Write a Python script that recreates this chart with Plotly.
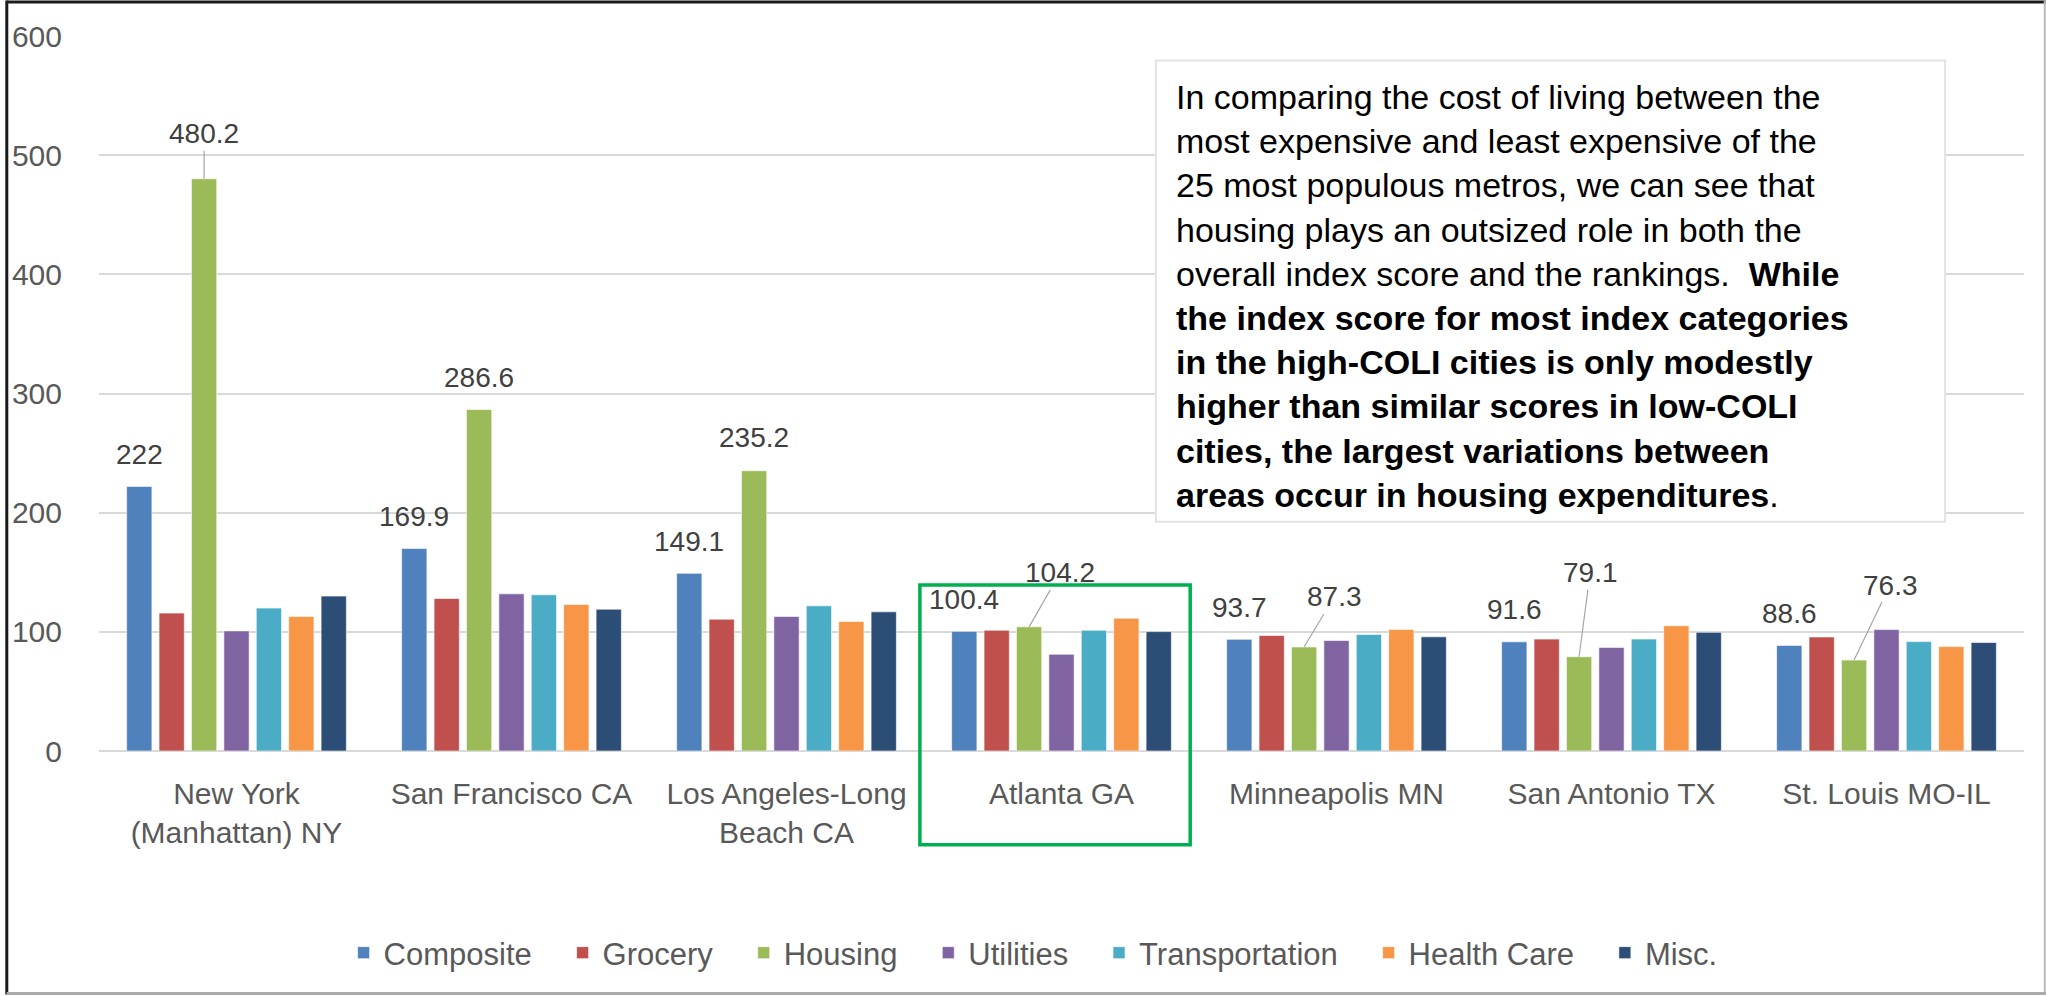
import plotly.graph_objects as go

# ---------------- data ----------------
cities = ["New York<br>(Manhattan) NY", "San Francisco CA", "Los Angeles-Long<br>Beach CA",
          "Atlanta GA", "Minneapolis MN", "San Antonio TX", "St. Louis MO-IL"]
series_names = ["Composite", "Grocery", "Housing", "Utilities", "Transportation", "Health Care", "Misc."]
composite = [222, 169.9, 149.1, 100.4, 93.7, 91.6, 88.6]
grocery = [115.7, 128.0, 110.6, 101.3, 96.9, 93.9, 95.7]
housing = [480.2, 286.6, 235.2, 104.2, 87.3, 79.1, 76.3]
utilities = [100.8, 131.9, 112.9, 81.2, 92.7, 86.9, 101.9]
transportation = [119.9, 131.1, 121.8, 101.3, 97.8, 93.9, 91.8]
health_care = [112.9, 123.0, 108.7, 111.4, 102.0, 105.1, 87.6]
misc = [130.0, 119.0, 116.8, 100.2, 95.8, 99.6, 91.0]
y_ticks = [0, 100, 200, 300, 400, 500, 600]

note_lines = [
    "In comparing the cost of living between the",
    "most expensive and least expensive of the",
    "25 most populous metros, we can see that",
    "housing plays an outsized role in both the",
    "overall index score and the rankings.  <b>While</b>",
    "<b>the index score for most index categories</b>",
    "<b>in the high-COLI cities is only modestly</b>",
    "<b>higher than similar scores in low-COLI</b>",
    "<b>cities, the largest variations between</b>",
    "<b>areas occur in housing expenditures</b>.",
]

# ---------------- style ----------------
colors = ["#4F81BD", "#C0504D", "#9BBB59", "#8064A2", "#4BACC6", "#F79646", "#2C4D75"]
FONT = "Arial, Liberation Sans, sans-serif"
BARGAP = 0.175
BARGROUPGAP = 0.22
LEGEND_PAD = "\u00a0\u00a0\u00a0"
# label offsets (px) for housing labels: (dx, dy, leader)
housing_label_offsets = [(0, -45, True), (0, -32, False), (0, -33, False), (31, -54, True),
                         (30, -50, True), (11, -84, True), (36, -75, True)]

values = [composite, grocery, housing, utilities, transportation, health_care, misc]
xs = list(range(len(cities)))

fig = go.Figure()
for name, vals, col in zip(series_names, values, colors):
    fig.add_trace(go.Bar(x=xs, y=vals, name=name + LEGEND_PAD,
                         marker=dict(color=col, line=dict(color="rgba(255,255,255,0.6)", width=1)),
                         hoverinfo="skip"))

n = len(series_names)
slot = (1 - BARGAP) / n

annotations = []
label_font = dict(family=FONT, size=28, color="#404040")
for i, v in enumerate(composite):
    annotations.append(dict(x=i + (0 - (n - 1) / 2) * slot, y=v, xref="x", yref="y",
                            text=f"{v:g}", showarrow=False, yshift=32, font=label_font))
for i, v in enumerate(housing):
    dx, dy, leader = housing_label_offsets[i]
    xi = i + (2 - (n - 1) / 2) * slot
    if leader:
        annotations.append(dict(x=xi, y=v, xref="x", yref="y", text=f"{v:g}", showarrow=True,
                                arrowhead=0, arrowwidth=1.2, arrowcolor="#A6A6A6", ax=dx, ay=dy,
                                standoff=0, font=label_font))
    else:
        annotations.append(dict(x=xi, y=v, xref="x", yref="y", text=f"{v:g}", showarrow=False,
                                yshift=-dy, font=label_font))

# text box
annotations.append(dict(x=0.5585, y=0.944, xref="paper", yref="paper", xanchor="left", yanchor="top",
                        align="left", showarrow=False, text="<br>".join(note_lines),
                        font=dict(family=FONT, size=34, color="#000000")))

shapes = [
    # note box
    dict(type="rect", xref="paper", yref="paper", x0=0.5490, x1=0.959, y0=0.3205, y1=0.9657,
         fillcolor="white", line=dict(color="#E3E3E3", width=2), layer="above"),
    # Atlanta highlight box
    dict(type="rect", xref="x", yref="paper", x0=3 - 0.515, x1=3 + 0.468, y0=-0.131, y1=0.232,
         line=dict(color="#00B050", width=3.5), fillcolor="rgba(0,0,0,0)", layer="above"),
    # outer frame
    dict(type="line", xref="paper", yref="paper", x0=-0.048, x1=1.0114, y0=1.0475, y1=1.0475,
         line=dict(color="#1A1A1A", width=3)),
    dict(type="line", xref="paper", yref="paper", x0=-0.0479, x1=-0.0479, y0=-0.3406, y1=1.0495,
         line=dict(color="#1A1A1A", width=3)),
    dict(type="line", xref="paper", yref="paper", x0=1.0108, x1=1.0108, y0=-0.3406, y1=1.0495,
         line=dict(color="#BBBBBB", width=2)),
    dict(type="line", xref="paper", yref="paper", x0=-0.048, x1=1.0114, y0=-0.3392, y1=-0.3392,
         line=dict(color="#AAAAAA", width=3)),
]

fig.update_layout(
    width=2046, height=996,
    margin=dict(l=94, r=22, t=36, b=245),
    paper_bgcolor="white", plot_bgcolor="white",
    barmode="group", bargap=BARGAP, bargroupgap=BARGROUPGAP,
    font=dict(family=FONT, color="#595959"),
    showlegend=True,
    legend=dict(orientation="h", x=0.492, xanchor="center", y=-0.2825, yanchor="middle",
                font=dict(family=FONT, size=31, color="#595959"),
                traceorder="normal"),
    annotations=annotations,
    shapes=shapes,
)
fig.update_xaxes(tickmode="array", tickvals=xs, ticktext=cities, range=[-0.5, len(cities) - 0.5],
                 showgrid=False, zeroline=False, showline=False, ticks="",
                 tickfont=dict(family=FONT, size=30, color="#595959"), ticklabelstandoff=22)
fig.update_yaxes(range=[0, 600], tickmode="array", tickvals=y_ticks, showgrid=True,
                 gridcolor="#D9D9D9", gridwidth=2, zeroline=True, zerolinecolor="#D9D9D9",
                 zerolinewidth=2, showline=False, ticks="",
                 tickfont=dict(family=FONT, size=30, color="#595959"), ticklabelstandoff=36)

fig.write_html("out.html", config={"displayModeBar": False},
               post_script="document.body.style.margin='0px';")
